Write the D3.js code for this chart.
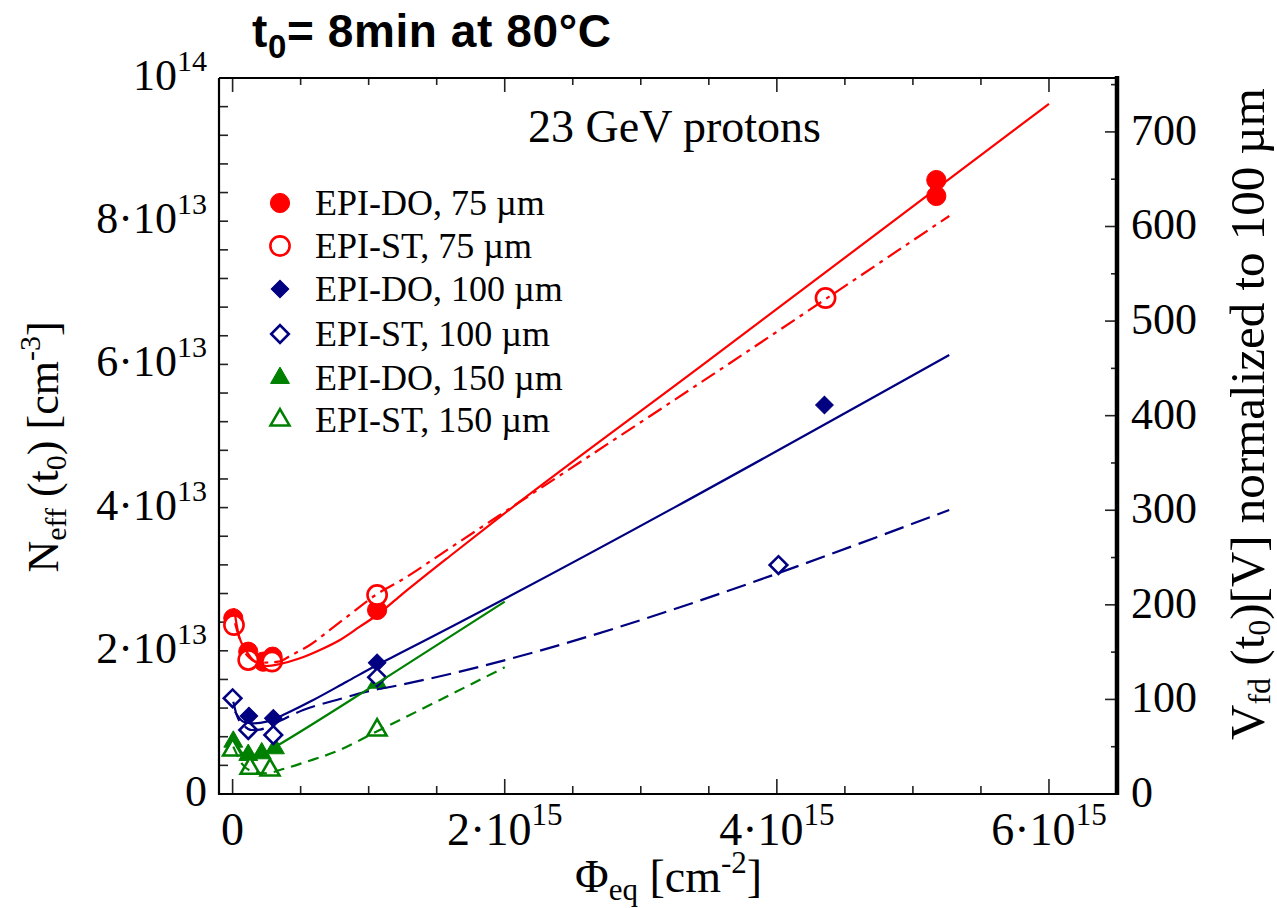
<!doctype html>
<html>
<head>
<meta charset="utf-8">
<title>Neff vs fluence</title>
<script src="https://cdn.jsdelivr.net/npm/d3@7"></script>
<style>
  body { margin: 0; background: #fff; }
  text { font-family: "Liberation Serif", "Times New Roman", serif; fill: #000; }
  .title { font-family: "Liberation Sans", Arial, sans-serif; font-weight: bold; }
</style>
</head>
<body>
<svg id="chart" width="1277" height="908"></svg>
<script>
// fluence in 1e15 cm^-2, Neff in 1e13 cm^-3
const doRed75X  = [0.005, 0.115, 0.225, 0.294, 1.062, 5.172, 5.172];
const doRed75Y  = [2.454, 1.987, 1.848, 1.918, 2.570, 8.575, 8.352];
const stRed75X  = [0.010, 0.115, 0.290, 1.062, 4.358];
const stRed75Y  = [2.360, 1.872, 1.850, 2.779, 6.927];
const doBlue100X = [0.120, 0.299, 1.062, 4.350];
const doBlue100Y = [1.089, 1.057, 1.834, 5.433];
const stBlue100X = [0.000, 0.115, 0.299, 1.062, 4.012];
const stBlue100Y = [1.337, 0.894, 0.824, 1.630, 3.198];
const doGreen150X = [0.005, 0.115, 0.214, 0.311, 1.062];
const doGreen150Y = [0.730, 0.545, 0.568, 0.638, 1.554];
const stGreen150X = [0.000, 0.128, 0.275, 1.062];
const stGreen150Y = [0.615, 0.359, 0.335, 0.894];

// fit curves
const fitRedDoX = [0.010, 0.042, 0.104, 0.164, 0.250, 0.348, 0.495, 0.642, 0.789, 0.935, 1.062, 1.230, 1.598, 1.965, 3.435, 6.0];
const fitRedDoY = [2.594, 2.245, 1.988, 1.848, 1.788, 1.816, 1.895, 2.011, 2.151, 2.337, 2.500, 2.765, 3.324, 3.869, 5.964, 9.64];
const fitRedStX = [0.018, 0.054, 0.104, 0.201, 0.336, 0.434, 0.568, 0.715, 0.886, 1.062, 1.230, 1.598, 1.965, 3.435, 5.267];
const fitRedStY = [2.384, 2.151, 1.941, 1.834, 1.848, 1.941, 2.081, 2.291, 2.542, 2.793, 2.975, 3.436, 3.897, 5.740, 8.073];
const fitBlueDoX = [0.018, 0.079, 0.152, 0.250, 0.397, 0.593, 0.838, 1.062, 1.230, 5.267];
const fitBlueDoY = [1.149, 1.010, 0.987, 1.010, 1.127, 1.313, 1.568, 1.802, 1.965, 6.131];
const fitBlueStX = [0.005, 0.030, 0.079, 0.140, 0.200, 0.311, 0.519, 0.764, 0.985, 1.230, 5.267];
const fitBlueStY = [1.289, 1.103, 0.964, 0.894, 0.900, 0.987, 1.173, 1.313, 1.429, 1.522, 3.966];
const fitGreenDoX = [0.000, 0.079, 0.177, 0.275, 0.324, 1.062, 2.0];
const fitGreenDoY = [0.848, 0.568, 0.545, 0.615, 0.670, 1.546, 2.686];
const fitGreenStX = [0.005, 0.067, 0.152, 0.250, 0.348, 0.544, 0.789, 1.033, 1.230, 2.0];
const fitGreenStY = [0.661, 0.429, 0.311, 0.289, 0.335, 0.451, 0.615, 0.848, 1.034, 1.770];

const legendLabels = ["EPI-DO, 75 µm", "EPI-ST, 75 µm", "EPI-DO, 100 µm",
                      "EPI-ST, 100 µm", "EPI-DO, 150 µm", "EPI-ST, 150 µm"];
const leftTickVals = [0, 2, 4, 6, 8, 10];
const leftTickExp = ["", "13", "13", "13", "13", "14"];
const leftTickMant = ["0", "2·10", "4·10", "6·10", "8·10", "10"];
const bottomTickVals = [0, 2, 4, 6];
const bottomTickMant = ["0", "2·10", "4·10", "6·10"];
const bottomTickExp = ["", "15", "15", "15"];
const rightTickVals = [0, 100, 200, 300, 400, 500, 600, 700];

const RED = "#ff0000", BLUE = "#000080", GREEN = "#008000";

let svg = d3.select("#chart");
let L = 219, R = 1117, T = 78, B = 794;

let x = d3.scaleLinear().domain([-0.1, 6.5]).range([L, R]);
let y = d3.scaleLinear().domain([0, 10]).range([B, T]);
let yv = d3.scaleLinear().domain([0, 757]).range([B, T]);

// ticks
function ticksFrom(lo, hi, step) {
  let out = [];
  for (let v = lo; v <= hi + 1e-9; v += step) out.push(+v.toFixed(3));
  return out;
}
let xMinor = ticksFrom(0, 6.5, 0.5);
let yMinor = ticksFrom(0, 10, 0.4);
let vMinor = ticksFrom(0, 750, 50);

let gAx = svg.append("g").attr("stroke", "#222").attr("stroke-width", 1.6);
// bottom + top ticks
xMinor.forEach(v => {
  let major = bottomTickVals.includes(v);
  gAx.append("line").attr("x1", x(v)).attr("x2", x(v)).attr("y1", B).attr("y2", B - (major ? 15 : 8));
  gAx.append("line").attr("x1", x(v)).attr("x2", x(v)).attr("y1", T).attr("y2", T + (major ? 14 : 7));
});
yMinor.forEach(v => {
  gAx.append("line").attr("x1", L).attr("x2", L + 9).attr("y1", y(v)).attr("y2", y(v));
});
vMinor.forEach(v => {
  let major = v % 100 === 0;
  gAx.append("line").attr("x1", R).attr("x2", R - (major ? 12 : 6)).attr("y1", yv(v)).attr("y2", yv(v));
});

// frame
svg.append("path")
  .attr("d", `M${L},${T}H${R}M${L},${T}V${B}H${R}`)
  .attr("fill", "none").attr("stroke", "#000").attr("stroke-width", 2.2);
svg.append("line").attr("x1", R).attr("x2", R).attr("y1", T - 2).attr("y2", B + 1)
  .attr("stroke", "#000").attr("stroke-width", 4.5);

// tick labels
leftTickVals.forEach((v, i) => {
  let t = svg.append("text").attr("x", 207).attr("y", y(v) + 12)
    .attr("text-anchor", "end").attr("font-size", 44);
  t.append("tspan").text(leftTickMant[i]);
  if (leftTickExp[i]) t.append("tspan").attr("dy", -19).attr("font-size", 30).text(leftTickExp[i]);
});
bottomTickVals.forEach((v, i) => {
  let t = svg.append("text").attr("x", x(v)).attr("y", 845)
    .attr("text-anchor", "middle").attr("font-size", 46);
  t.append("tspan").text(bottomTickMant[i]);
  if (bottomTickExp[i]) t.append("tspan").attr("dy", -20).attr("font-size", 31).text(bottomTickExp[i]);
});
rightTickVals.forEach(v => {
  svg.append("text").attr("x", 1131).attr("y", yv(v) + 13)
    .attr("font-size", 44).text(v);
});

// axis titles
let xt = svg.append("text").attr("x", 575).attr("y", 892).attr("font-size", 46);
xt.append("tspan").text("Φ");
xt.append("tspan").attr("dy", 8).attr("font-size", 31).text("eq");
xt.append("tspan").attr("dy", -8).text(" [cm");
xt.append("tspan").attr("dy", -19).attr("font-size", 31).text("-2");
xt.append("tspan").attr("dy", 19).text("]");

let yt = svg.append("text").attr("transform", "translate(58,447) rotate(-90)")
  .attr("text-anchor", "middle").attr("font-size", 44);
yt.append("tspan").text("N");
yt.append("tspan").attr("dy", 8).attr("font-size", 30).text("eff");
yt.append("tspan").attr("dy", -8).text(" (t");
yt.append("tspan").attr("dy", 8).attr("font-size", 30).text("0");
yt.append("tspan").attr("dy", -8).text(") [cm");
yt.append("tspan").attr("dy", -18).attr("font-size", 30).text("-3");
yt.append("tspan").attr("dy", 18).text("]");

let vt = svg.append("text").attr("transform", "translate(1264,414) rotate(-90)")
  .attr("text-anchor", "middle").attr("font-size", 49);
vt.append("tspan").text("V");
vt.append("tspan").attr("dy", 6).attr("font-size", 32).text("fd");
vt.append("tspan").attr("dy", -6).text(" (t");
vt.append("tspan").attr("dy", 6).attr("font-size", 32).text("0");
vt.append("tspan").attr("dy", -6).text(")[V] normalized to 100 µm");

// title
let tt = svg.append("text").attr("class", "title").attr("x", 252).attr("y", 47)
  .attr("font-size", 46).attr("letter-spacing", 0.6);
tt.append("tspan").text("t");
tt.append("tspan").attr("dy", 11).attr("font-size", 33).text("0");
tt.append("tspan").attr("dy", -11).text("= 8min at 80°C");

svg.append("text").attr("x", 528).attr("y", 142).attr("font-size", 46).text("23 GeV protons");

// markers
const markerShapes = {
  circle: d3.symbol().type(d3.symbolCircle).size(290),
  diamond: d3.symbol().type(d3.symbolSquare).size(155),
  triangle: d3.symbol().type(d3.symbolTriangle).size(155)
};
function drawMarker(g, shape, cx, cy, color, filled) {
  let p = g.append("path").attr("d", markerShapes[shape]())
    .attr("transform", `translate(${cx},${cy})` + (shape === "diamond" ? " rotate(45)" : ""));
  if (filled) p.attr("fill", color).attr("stroke", color).attr("stroke-width", 1);
  else p.attr("fill", "#fff").attr("stroke", color).attr("stroke-width", 2.6);
}

const seriesList = [
  {xs: doRed75X, ys: doRed75Y, shape: "circle", color: RED, filled: true},
  {xs: stRed75X, ys: stRed75Y, shape: "circle", color: RED, filled: false},
  {xs: doBlue100X, ys: doBlue100Y, shape: "diamond", color: BLUE, filled: true},
  {xs: stBlue100X, ys: stBlue100Y, shape: "diamond", color: BLUE, filled: false},
  {xs: doGreen150X, ys: doGreen150Y, shape: "triangle", color: GREEN, filled: true},
  {xs: stGreen150X, ys: stGreen150Y, shape: "triangle", color: GREEN, filled: false}
];

let gMarks = svg.append("g");
// filled first, then open on top
seriesList.filter(s => s.filled).concat(seriesList.filter(s => !s.filled)).forEach(s => {
  s.xs.forEach((v, i) => drawMarker(gMarks, s.shape, x(v), y(s.ys[i]), s.color, s.filled));
});

// fit lines
const fits = [
  {xs: fitRedDoX, ys: fitRedDoY, color: RED, dash: null},
  {xs: fitRedStX, ys: fitRedStY, color: RED, dash: "16,6,4,6"},
  {xs: fitBlueDoX, ys: fitBlueDoY, color: BLUE, dash: null},
  {xs: fitBlueStX, ys: fitBlueStY, color: BLUE, dash: "20,8"},
  {xs: fitGreenDoX, ys: fitGreenDoY, color: GREEN, dash: null},
  {xs: fitGreenStX, ys: fitGreenStY, color: GREEN, dash: "11,7"}
];
let line = d3.line().x(d => x(d[0])).y(d => y(d[1])).curve(d3.curveMonotoneX);
fits.forEach(f => {
  svg.append("path")
    .attr("d", line(f.xs.map((v, i) => [v, f.ys[i]])))
    .attr("fill", "none").attr("stroke", f.color).attr("stroke-width", 2.2)
    .attr("stroke-dasharray", f.dash);
});

// legend
let legRows = [203, 246, 289, 334, 378, 420];
let gLeg = svg.append("g");
seriesList.forEach((s, i) => {
  drawMarker(gLeg, s.shape, 280, legRows[i], s.color, s.filled);
  gLeg.append("text").attr("x", 315).attr("y", legRows[i] + 12).attr("font-size", 36).text(legendLabels[i]);
});
</script>
</body>
</html>
